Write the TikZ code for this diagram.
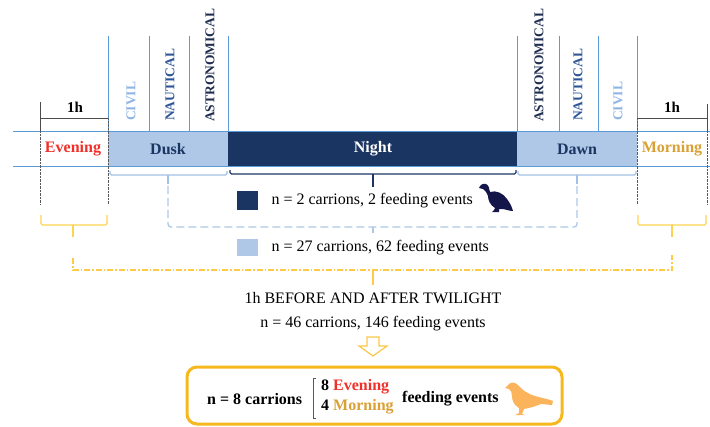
\documentclass[tikz,border=0pt]{standalone}
\usepackage{fontspec}
\setmainfont{Liberation Serif}
\usetikzlibrary{positioning}
\tikzset{>=stealth}

\definecolor{navy}{HTML}{1B3563}
\definecolor{lightband}{HTML}{AFC8E7}
\definecolor{lineblue}{HTML}{5B9BD5}
\definecolor{civilblue}{HTML}{8EB4E3}
\definecolor{nautblue}{HTML}{2E5597}
\definecolor{astroblue}{HTML}{1F2D50}
\definecolor{evered}{HTML}{F0302A}
\definecolor{morngold}{HTML}{D9A035}
\definecolor{bracketyellow}{HTML}{FFD24F}
\definecolor{boxyellow}{HTML}{F7B81D}
\definecolor{birdorange}{HTML}{FBB45C}
\definecolor{vulture}{HTML}{14164A}

\begin{document}
\begin{tikzpicture}[x=1pt,y=-1pt,
    lab/.style={font=\bfseries\fontsize{16}{18}\selectfont},
    txt/.style={font=\fontsize{16}{18}\selectfont},
    twi/.style={font=\bfseries\fontsize{13.5}{13.5}\selectfont, rotate=90, anchor=west, inner sep=0pt},
    hourline/.style={gray!60!black},
    limit/.style={gray!70!black, densely dotted},
    bracket/.style={line width=1.4pt, rounded corners=1.5pt}]
  \useasboundingbox (0,0) rectangle (710,426);

  % twilight and night bands
  \fill[lightband] (108,131) rectangle (228,166);
  \fill[navy] (228,131) rectangle (517,166);
  \fill[lightband] (517,131) rectangle (637,166);
  \draw[lineblue, thick] (13,131) -- (710,131);
  \draw[lineblue, thick] (13,166) -- (710,166);
  \foreach \x in {108,149,189,228,517,559,598,637}
    \draw[lineblue] (\x,36) -- (\x,131);

  \node[twi, civilblue] (civ1) at (131,121) {CIVIL};
  \node[twi, nautblue] (nau1) at (170,121) {NAUTICAL};
  \node[twi, astroblue] (ast1) at (210,122) {ASTRONOMICAL};
  \node[twi, astroblue] (ast2) at (539,122) {ASTRONOMICAL};
  \node[twi, nautblue] (nau2) at (578,121) {NAUTICAL};
  \node[twi, civilblue] (civ2) at (618,121) {CIVIL};

  \node[lab, evered] (evening) at (73,149) {Evening};
  \node[lab, navy] (dusk) at (168,149) {Dusk};
  \node[lab, white] (night) at (373,149) {Night};
  \node[lab, navy] (dawn) at (577,149) {Dawn};
  \node[lab, morngold] (morning) at (672,149) {Morning};

  % one hour before and after
  \draw[hourline] (40,102) -- (40,131);
  \draw[hourline] (40,118) -- (108,118);
  \draw[hourline] (707,104) -- (707,131);
  \draw[hourline] (637,118) -- (707,118);
  \node[lab, font=\bfseries\fontsize{15}{15}\selectfont] (h1) at (75,107) {1h};
  \node[lab, font=\bfseries\fontsize{15}{15}\selectfont] (h2) at (672,107) {1h};
  \draw[limit] (40,131) -- (40,204);
  \draw[limit] (108,118) -- (108,204);
  \draw[limit] (637,118) -- (637,204);
  \draw[limit] (707,131) -- (707,204);

  % braces under the bands
  \draw[bracket, lightband!85!lineblue] (110,171) -- (110,175) -- (227,175) -- (227,171);
  \draw[bracket, lightband!85!lineblue] (168,175) -- (168,184);
  \draw[bracket, navy] (230,170) -- (230,174) -- (516,174) -- (516,170);
  \draw[bracket, navy] (373,174) -- (373,187);
  \draw[bracket, lightband!85!lineblue] (518,171) -- (518,175) -- (636,175) -- (636,171);
  \draw[bracket, lightband!85!lineblue] (577,175) -- (577,184);

  \draw[lightband, line width=1.3pt, dash pattern=on 8pt off 4pt, rounded corners=3pt]
    (168,186) -- (168,227) -- (577,227) -- (577,186);
  \draw[lightband, line width=1.3pt] (373,227) -- (373,233);

  \draw[bracket, bracketyellow, line width=1.1pt] (41,215) -- (41,225) -- (107,225) -- (107,215);
  \draw[bracket, bracketyellow, line width=1.1pt] (73,225) -- (73,237);
  \draw[bracket, bracketyellow, line width=1.1pt] (638,215) -- (638,225) -- (706,225) -- (706,215);
  \draw[bracket, bracketyellow, line width=1.1pt] (672,225) -- (672,237);

  \draw[bracketyellow!90!orange, line width=1.1pt, dash pattern=on 6pt off 2pt on 1.5pt off 2pt]
    (73,258) -- (73,270) -- (672,270) -- (672,255);
  \draw[bracketyellow!90!orange, line width=1.1pt] (373,270) -- (373,285);

  % legend
  \fill[navy] (237,191) rectangle (258,210);
  \node[txt, anchor=west] (lgnight) at (268,201) {n = 2 carrions, 2 feeding events};
  \fill[lightband] (237,239) rectangle (258,256);
  \node[txt, anchor=west] (lgtwi) at (268,248) {n = 27 carrions, 62 feeding events};

  % vulture
  \fill[vulture] (479,188) .. controls (480,185) and (483,183) .. (486,184)
    .. controls (489,185) and (489,189) .. (490,192)
    .. controls (496,190) and (503,193) .. (507,199)
    .. controls (510,203) and (512,207) .. (513,211)
    .. controls (509,211) and (505,209) .. (502,209)
    -- (499,209) -- (499,212) -- (492,212) -- (494,210) -- (495,208)
    .. controls (490,205) and (488,200) .. (488,196)
    .. controls (487,193) and (485,190) .. (483,189) -- cycle;

  \node[txt] (before) at (373,298) {1h BEFORE AND AFTER TWILIGHT};
  \node[txt] (total) at (373,324) {n = 46 carrions, 146 feeding events};

  % hollow arrow down
  \draw[boxyellow!80!white, line width=1.2pt, line join=miter]
    (367,337) -- (379,337) -- (379,346) -- (387,346) -- (373,356)
    -- (359,346) -- (367,346) -- cycle;

  % result box
  \draw[boxyellow, line width=3pt, rounded corners=10pt] (187,367) rectangle (562,424);
  \node[lab, anchor=west, inner sep=0pt] (nbox) at (207,399) {n = 8 carrions};
  \draw[gray!70!black] (316,378) -- (313,378) -- (313,418) -- (316,418);
  \node[lab, anchor=west, inner sep=0pt] (eve8) at (321,387) {8 \textcolor{evered}{Evening}};
  \node[lab, anchor=west, inner sep=0pt] (mor4) at (321,407) {4 \textcolor{morngold}{Morning}};
  \node[lab, anchor=west, inner sep=0pt] (feed) at (402,399) {feeding events};

  % bird
  \fill[birdorange] (505,388) -- (509,384) .. controls (511,382) and (515,382) .. (518,385)
    .. controls (522,390) and (528,394) .. (535,396)
    .. controls (542,398) and (548,399) .. (553,401)
    -- (552,405) -- (541,404)
    .. controls (536,406) and (530,408) .. (524,409)
    -- (522,414) -- (525,415) -- (515,415) -- (519,413) -- (519,408)
    .. controls (514,405) and (512,401) .. (512,396)
    .. controls (512,393) and (511,390) .. (509,389) -- cycle;
\end{tikzpicture}
\end{document}
